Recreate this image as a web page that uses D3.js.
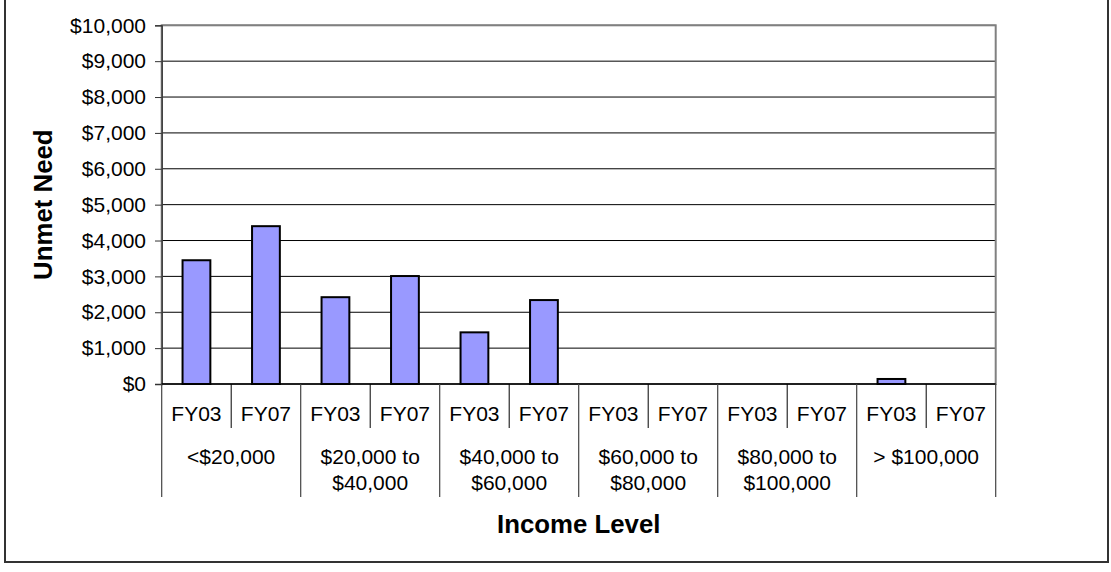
<!DOCTYPE html>
<html>
<head>
<meta charset="utf-8">
<script src="https://cdn.jsdelivr.net/npm/d3@7"></script>
<style>
  html, body { margin: 0; padding: 0; background: #fff; }
  svg { display: block; font-family: Arial, "Liberation Sans", sans-serif; }
</style>
</head>
<body>
<div id="chart"></div>
<script>
// ─── Data ───────────────────────────────────────────────
const incomeGroups = [
    ['<$20,000'],
    ['$20,000 to', '$40,000'],
    ['$40,000 to', '$60,000'],
    ['$60,000 to', '$80,000'],
    ['$80,000 to', '$100,000'],
    ['> $100,000'],
];
const years = ['FY03', 'FY07'];
const fy03 = [3450, 2420, 1440, 0, 0, 140];
const fy07 = [4400, 3010, 2340, 0, 0, 0];
const yTicks = [0, 1000, 2000, 3000, 4000, 5000, 6000, 7000, 8000, 9000, 10000];

const W = 1111, H = 572;
const plot = { left: 161.7, right: 995.7, top: 25.3, bottom: 384 };
const labelSize = 21, titleSize = 25.8;

const svg = d3.select('#chart').append('svg')
    .attr('width', W).attr('height', H);

// outer chart border (top edge sits just above the window)
svg.append('rect')
    .attr('x', 5).attr('y', -3)
    .attr('width', 1103).attr('height', 565)
    .attr('fill', '#fff').attr('stroke', '#333').attr('stroke-width', 2);

const y = d3.scaleLinear().domain([0, 10000]).range([plot.bottom, plot.top]);

const xGroup = d3.scaleBand()
    .domain(d3.range(incomeGroups.length))
    .range([plot.left, plot.right]);

const xYear = d3.scaleBand()
    .domain(years)
    .range([0, xGroup.bandwidth()])
    .paddingInner(0.6)
    .paddingOuter(0.3);

const xCell = d3.scaleBand()
    .domain(years)
    .range([0, xGroup.bandwidth()]);

// ─── Gridlines ──────────────────────────────────────────
svg.append('g')
    .selectAll('line')
    .data(yTicks.filter(t => t > 0))
    .join('line')
    .attr('x1', plot.left).attr('x2', plot.right)
    .attr('y1', d => y(d)).attr('y2', d => y(d))
    .attr('stroke', '#000').attr('stroke-width', 1);

// plot area border (gray)
svg.append('rect')
    .attr('x', plot.left).attr('y', plot.top)
    .attr('width', plot.right - plot.left).attr('height', plot.bottom - plot.top)
    .attr('fill', 'none').attr('stroke', '#808080').attr('stroke-width', 2);

// ─── Bars ───────────────────────────────────────────────
const barData = [];
incomeGroups.forEach((g, i) => {
    barData.push({ group: i, year: 'FY03', value: fy03[i] });
    barData.push({ group: i, year: 'FY07', value: fy07[i] });
});

svg.append('g')
    .selectAll('rect')
    .data(barData.filter(d => d.value > 0))
    .join('rect')
    .attr('x', d => xGroup(d.group) + xYear(d.year))
    .attr('y', d => y(d.value))
    .attr('width', xYear.bandwidth())
    .attr('height', d => y(0) - y(d.value))
    .attr('fill', '#9999ff')
    .attr('stroke', '#000')
    .attr('stroke-width', 2);

// ─── Y axis ─────────────────────────────────────────────
const yAxis = svg.append('g')
    .attr('transform', `translate(${plot.left},0)`)
    .call(d3.axisLeft(y)
        .tickValues(yTicks)
        .tickSize(6.7)
        .tickPadding(9)
        .tickFormat(d => '$' + d3.format(',')(d)));
yAxis.select('.domain').attr('stroke', '#333').attr('stroke-width', 1.3);
yAxis.selectAll('.tick line').attr('stroke', '#333');
yAxis.selectAll('.tick text')
    .attr('font-size', labelSize).attr('fill', '#000')
    .attr('font-family', 'Arial, "Liberation Sans", sans-serif');

// ─── Category axis (two levels) ─────────────────────────
const xa = svg.append('g');
xa.append('line')
    .attr('x1', plot.left).attr('x2', plot.right)
    .attr('y1', plot.bottom).attr('y2', plot.bottom)
    .attr('stroke', '#000').attr('stroke-width', 1.3);

// group dividers
xa.selectAll('line.grp')
    .data(d3.range(incomeGroups.length + 1))
    .join('line')
    .attr('class', 'grp')
    .attr('x1', i => i < incomeGroups.length ? xGroup(i) : plot.right)
    .attr('x2', i => i < incomeGroups.length ? xGroup(i) : plot.right)
    .attr('y1', plot.bottom).attr('y2', 497)
    .attr('stroke', '#444').attr('stroke-width', 1.2);

// year dividers inside each group
xa.selectAll('line.yr')
    .data(d3.range(incomeGroups.length))
    .join('line')
    .attr('class', 'yr')
    .attr('x1', i => xGroup(i) + xCell('FY07'))
    .attr('x2', i => xGroup(i) + xCell('FY07'))
    .attr('y1', plot.bottom).attr('y2', 428)
    .attr('stroke', '#000').attr('stroke-width', 1);

// year labels
xa.selectAll('text.yr')
    .data(barData)
    .join('text')
    .attr('class', 'yr')
    .attr('x', d => xGroup(d.group) + xCell(d.year) + xCell.bandwidth() / 2)
    .attr('y', 421)
    .attr('text-anchor', 'middle')
    .attr('font-size', labelSize)
    .text(d => d.year);

// group labels
xa.selectAll('text.grp')
    .data(incomeGroups)
    .join('text')
    .attr('class', 'grp')
    .attr('x', (d, i) => xGroup(i) + xGroup.bandwidth() / 2)
    .attr('y', 464)
    .attr('text-anchor', 'middle')
    .attr('font-size', labelSize)
    .selectAll('tspan')
    .data(d => d)
    .join('tspan')
    .attr('x', function () { return this.parentNode.getAttribute('x'); })
    .attr('dy', (d, i) => i === 0 ? 0 : 25.5)
    .text(d => d);

// ─── Axis titles ────────────────────────────────────────
svg.append('text')
    .attr('x', (plot.left + plot.right) / 2)
    .attr('y', 533)
    .attr('text-anchor', 'middle')
    .attr('font-size', titleSize).attr('font-weight', 'bold')
    .text('Income Level');

svg.append('text')
    .attr('transform', `translate(52,${(plot.top + plot.bottom) / 2}) rotate(-90)`)
    .attr('text-anchor', 'middle')
    .attr('font-size', titleSize).attr('font-weight', 'bold')
    .text('Unmet Need');
</script>
</body>
</html>
